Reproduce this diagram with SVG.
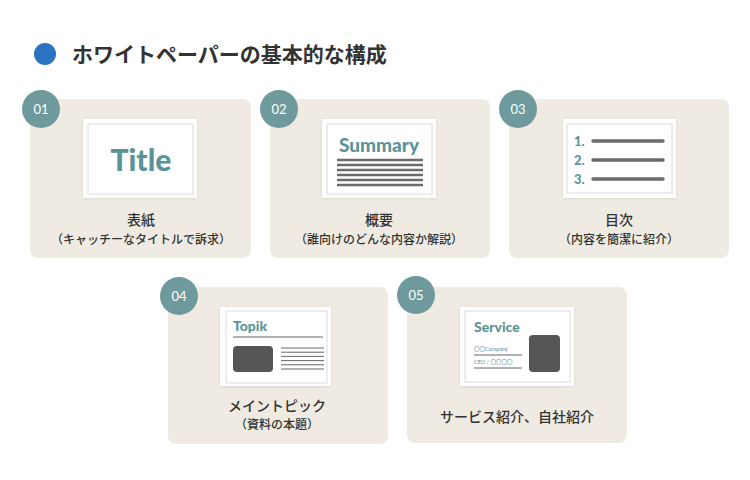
<svg xmlns="http://www.w3.org/2000/svg" width="750" height="480" viewBox="0 0 750 480">
<style>
.card{fill:#efebe2}
.badge{fill:#6e9a9e}
.num{font-family:"Lato","Noto Sans",sans-serif;font-size:13px;fill:#fff;text-anchor:middle}
.frame{fill:#fff}
.inner{fill:#fff;stroke:#e2e2e2;stroke-width:1.2}
.lbl{font-family:"Noto Sans CJK JP",sans-serif;font-size:14px;font-weight:500;fill:#333;text-anchor:middle}
.sub{font-family:"Noto Sans CJK JP",sans-serif;font-size:12px;font-weight:500;fill:#333;text-anchor:middle}
.teal{font-family:"Lato","Noto Sans",sans-serif;font-weight:900;fill:#5a9499}
.gl{stroke:#6b6b6b;stroke-width:2.6}
.gr{stroke:#6b6b6b;stroke-width:3.5;stroke-linecap:round}
.dark{fill:#555}
.thin{stroke:#666;stroke-width:1}
</style>
<defs>
<filter id="sh" x="-10%" y="-10%" width="120%" height="120%">
<feDropShadow dx="0" dy="0.5" stdDeviation="1" flood-color="#000" flood-opacity="0.12"/>
</filter>
</defs>
<rect width="750" height="480" fill="#fff"/>
<g id="title">
<circle cx="45" cy="54" r="11" fill="#2a72c2"/>
<text x="72" y="62" font-family="Noto Sans CJK JP,sans-serif" font-size="21" font-weight="bold" fill="#333">ホワイトペーパーの基本的な構成</text>
</g>
<g id="card1">
<rect class="card" x="30" y="99" width="221" height="159" rx="8"/>
<circle class="badge" cx="41" cy="109" r="19"/>
<text class="num" x="41" y="114">01</text>
<rect class="frame" x="83" y="119" width="114" height="79" filter="url(#sh)"/>
<rect class="inner" x="88" y="124" width="105" height="70"/>
<text class="teal" x="141" y="171" font-size="30" text-anchor="middle">Title</text>
<text class="lbl" x="141" y="225">表紙</text>
<text class="sub" x="141" y="244">（キャッチーなタイトルで訴求）</text>
</g>
<g id="card2">
<rect class="card" x="270" y="99" width="220" height="159" rx="8"/>
<circle class="badge" cx="279" cy="109" r="19"/>
<text class="num" x="279" y="114">02</text>
<rect class="frame" x="322" y="119" width="114" height="79" filter="url(#sh)"/>
<rect class="inner" x="327" y="124" width="105" height="70"/>
<text class="teal" x="379" y="152" font-size="19" text-anchor="middle">Summary</text>
<g class="gl">
<line x1="337" y1="160" x2="423" y2="160"/>
<line x1="337" y1="165" x2="423" y2="165"/>
<line x1="337" y1="170" x2="423" y2="170"/>
<line x1="337" y1="175" x2="423" y2="175"/>
<line x1="337" y1="180" x2="423" y2="180"/>
<line x1="337" y1="185" x2="423" y2="185"/>
</g>
<text class="lbl" x="379" y="225">概要</text>
<text class="sub" x="379" y="244">（誰向けのどんな内容か解説）</text>
</g>
<g id="card3">
<rect class="card" x="509" y="99" width="220" height="159" rx="8"/>
<circle class="badge" cx="518" cy="109" r="19"/>
<text class="num" x="518" y="114">03</text>
<rect class="frame" x="563" y="119" width="113" height="79" filter="url(#sh)"/>
<rect class="inner" x="567" y="124" width="105" height="69"/>
<text class="teal" x="574" y="146" font-size="13">1.</text>
<text class="teal" x="574" y="165" font-size="13">2.</text>
<text class="teal" x="574" y="184" font-size="13">3.</text>
<g class="gr">
<line x1="593" y1="141" x2="663" y2="141"/>
<line x1="593" y1="160" x2="663" y2="160"/>
<line x1="593" y1="179" x2="663" y2="179"/>
</g>
<text class="lbl" x="619" y="225">目次</text>
<text class="sub" x="619" y="244">（内容を簡潔に紹介）</text>
</g>
<g id="card4">
<rect class="card" x="168" y="287" width="220" height="157" rx="8"/>
<circle class="badge" cx="179" cy="296" r="19"/>
<text class="num" x="179" y="301">04</text>
<rect class="frame" x="220" y="307" width="111" height="79" filter="url(#sh)"/>
<rect class="inner" x="226" y="311" width="101" height="72"/>
<text class="teal" x="233" y="331" font-size="14">Topik</text>
<line class="thin" x1="233" y1="337" x2="323" y2="337"/>
<rect class="dark" x="233" y="346" width="40" height="26" rx="4"/>
<g class="thin" stroke-width="1.6">
<line x1="281" y1="348" x2="324" y2="348"/>
<line x1="281" y1="352.2" x2="324" y2="352.2"/>
<line x1="281" y1="356.4" x2="324" y2="356.4"/>
<line x1="281" y1="360.6" x2="324" y2="360.6"/>
<line x1="281" y1="364.8" x2="324" y2="364.8"/>
<line x1="281" y1="369" x2="324" y2="369"/>
</g>
<text class="lbl" x="277" y="411">メイントピック</text>
<text class="sub" x="277" y="429">（資料の本題）</text>
</g>
<g id="card5">
<rect class="card" x="407" y="287" width="220" height="156" rx="8"/>
<circle class="badge" cx="416" cy="295" r="19"/>
<text class="num" x="416" y="300">05</text>
<rect class="frame" x="460" y="307" width="114" height="79" filter="url(#sh)"/>
<rect class="inner" x="465" y="311" width="105" height="71"/>
<text class="teal" x="474" y="332" font-size="14">Service</text>
<text x="474" y="351" font-family="Lato,Noto Sans CJK JP,sans-serif" font-size="5.5" fill="#5a9499">〇〇Company</text>
<line class="thin" x1="474" y1="355" x2="522" y2="355"/>
<text x="474" y="364" font-family="Lato,Noto Sans CJK JP,sans-serif" font-size="5.5" fill="#5a9499">CEO / 〇〇〇〇</text>
<line class="thin" x1="474" y1="368" x2="522" y2="368"/>
<rect class="dark" x="529" y="335" width="31" height="37" rx="4"/>
<text class="lbl" x="517" y="422">サービス紹介、自社紹介</text>
</g>
</svg>
